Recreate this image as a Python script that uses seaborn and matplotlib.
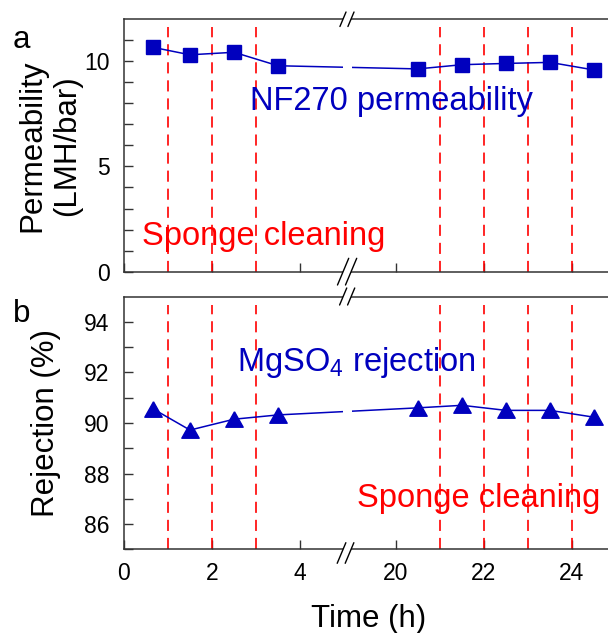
import numpy as np
import pandas as pd
import matplotlib
matplotlib.use("Agg")
import matplotlib.pyplot as plt
import seaborn as sns
from matplotlib.lines import Line2D
from matplotlib.patches import Polygon
from matplotlib.transforms import IdentityTransform

# ---------------- data ----------------
time_h = [0.67, 1.5, 2.5, 3.5, 20.5, 21.5, 22.5, 23.5, 24.5]
permeability = [10.65, 10.30, 10.42, 9.78, 9.63, 9.83, 9.89, 9.94, 9.58]
rejection = [90.55, 89.72, 90.15, 90.32, 90.60, 90.70, 90.50, 90.50, 90.23]
cleaning_times = [1, 2, 3, 21, 22, 23, 24]
x_ticks = [0, 2, 4, 20, 22, 24]
perm_major = [0, 5, 10]
perm_minor = [1, 2, 3, 4, 6, 7, 8, 9, 11]
rej_major = [86, 88, 90, 92, 94]
rej_minor = [85, 87, 89, 91, 93]

# ---------------- style ----------------
sns.set_style("ticks")
plt.rcParams["font.family"] = ["Liberation Sans", "DejaVu Sans"]
plt.rcParams["mathtext.fontset"] = "custom"
plt.rcParams["mathtext.rm"] = "Liberation Sans"
plt.rcParams["mathtext.default"] = "regular"
plt.rcParams["lines.scale_dashes"] = False
plt.rcParams["text.color"] = "black"
plt.rcParams["axes.labelcolor"] = "black"

BLUE = "#0000BE"
RED = "#FF0000"
SPINE = "#333333"

W, H = 608, 633
fig = plt.figure(figsize=(W / 100, H / 100), dpi=100)

# broken x-axis via a function scale
BREAK_A, BREAK_B = 5.07, 18.89
GAP = BREAK_B - BREAK_A
EPS = 1e-4
XMAX = 25.0


def fwd(x):
    x = np.asarray(x, float)
    return np.where(x <= BREAK_A, x,
                    np.where(x >= BREAK_B, x - GAP * (1 - EPS),
                             BREAK_A + (x - BREAK_A) * EPS))


def inv(y):
    y = np.asarray(y, float)
    ya = BREAK_A + GAP * EPS
    return np.where(y <= BREAK_A, y,
                    np.where(y >= ya, y + GAP * (1 - EPS),
                             BREAK_A + (y - BREAK_A) / EPS))


PX_PER_H = 44.0
LEFT_PX = 124.0
width_px = float(fwd(XMAX)) * PX_PER_H

ax_a = fig.add_axes([LEFT_PX / W, 1 - 271.7 / H, width_px / W, 252.7 / H])
ax_b = fig.add_axes([LEFT_PX / W, 1 - 549.3 / H, width_px / W, 252.6 / H])

df = pd.DataFrame({"time": time_h, "perm": permeability, "rej": rejection})

sns.lineplot(data=df, x="time", y="perm", ax=ax_a, color=BLUE, linewidth=1.1,
             marker="s", markersize=9.5, markeredgecolor=BLUE,
             markeredgewidth=1, zorder=3, legend=False)
tri = [(0, 0.89), (-1, -0.89), (1, -0.89), (0, 0.89)]
sns.lineplot(data=df, x="time", y="rej", ax=ax_b, color=BLUE, linewidth=1.1,
             marker=tri, markersize=12.5, markeredgecolor=BLUE,
             markeredgewidth=1, zorder=3, legend=False)

for ax, ylo, yhi, vtop, maj, mnr in [
    (ax_a, 0, 12, 11.62, perm_major, perm_minor),
    (ax_b, 85, 95, 94.67, rej_major, rej_minor),
]:
    ax.set_xscale("function", functions=(fwd, inv))
    ax.set_xlim(0, XMAX)
    ax.set_ylim(ylo, yhi)
    ax.set_xticks(x_ticks, labels=[str(t) for t in x_ticks])
    ax.set_xticks([], minor=True)
    ax.set_yticks(maj, labels=[str(t) for t in maj])
    ax.set_yticks(mnr, minor=True)
    ax.vlines(cleaning_times, ylo, vtop, colors=RED, linewidth=1.2,
              linestyles=(0, (8.0, 5.0)), zorder=1.5)
    ax.spines["right"].set_visible(False)
    for s in ["left", "top", "bottom"]:
        ax.spines[s].set_color(SPINE)
        ax.spines[s].set_linewidth(1.1)
    ax.tick_params(axis="both", which="both", direction="in", length=6.5,
                   width=1.0, color=SPINE, labelsize=16.5, labelcolor="black")
    ax.tick_params(axis="y", which="both", pad=10.5)
    ax.tick_params(axis="x", which="both", pad=9.5)
    ax.set_xlabel("")
    ax.set_ylabel("")

ax_a.tick_params(axis="x", labelbottom=False)

ax_a.set_ylabel("Permeability\n(LMH/bar)", fontsize=22.5, linespacing=1.2)
ax_a.yaxis.label.set_va("center")
ax_a.yaxis.set_label_coords((50 - LEFT_PX) / width_px, 0.5)

ax_b.set_ylabel("Rejection (%)", fontsize=22.5)
ax_b.yaxis.label.set_va("center")
ax_b.yaxis.set_label_coords((46 - LEFT_PX) / width_px, 0.5)

ax_b.set_xlabel("Time (h)", fontsize=22.5)
ax_b.xaxis.label.set_va("center")
ax_b.xaxis.set_label_coords((369 - LEFT_PX) / width_px, -(619 - 549.3) / 252.6)

# annotations (pixel positions from top-left -> figure fraction)
def ftext(xp, yp, s, color, size):
    fig.text(xp / W, 1 - yp / H, s, color=color, fontsize=size,
             ha="left", va="baseline")

ftext(250, 110, "NF270 permeability", BLUE, 23.5)
ftext(142, 245, "Sponge cleaning", RED, 23.5)
ftext(237, 371, "MgSO$_4$ rejection", BLUE, 23.5)
ftext(357, 507, "Sponge cleaning", RED, 23.5)
ftext(13, 48, "a", "black", 22.5)
ftext(13, 322, "b", "black", 22.5)

# ---------------- break marks ----------------
ident = IdentityTransform()
bx = ax_a.transData.transform((BREAK_A, 0))[0]
slope = 0.42
off = 4.0


def break_mark(yc_top_px, up, down):
    yc = H - yc_top_px
    # white gap in the spine
    hw = 2.5
    poly = Polygon([(bx - off - hw * slope, yc - hw), (bx + off - hw * slope, yc - hw),
                    (bx + off + hw * slope, yc + hw), (bx - off + hw * slope, yc + hw)],
                   closed=True, facecolor="white", edgecolor="none",
                   transform=ident, zorder=5)
    fig.add_artist(poly)
    for c in (bx - off, bx + off):
        ln = Line2D([c - down * slope, c + up * slope], [yc - down, yc + up],
                    color="black", linewidth=1.0, transform=ident, zorder=6)
        fig.add_artist(ln)


break_mark(19.0, 7, 7.5)
break_mark(271.7, 13.4, 13.3)
break_mark(296.7, 8.7, 8.3)
break_mark(549.3, 6.6, 14)

# white gap in the data line at the break
def line_gap(ax, yvals):
    p3 = ax.transData.transform((time_h[3], yvals[3]))
    p4 = ax.transData.transform((time_h[4], yvals[4]))
    t = (bx - p3[0]) / (p4[0] - p3[0])
    yl = p3[1] + t * (p4[1] - p3[1])
    gap = Polygon([(bx - 4.5, yl - 4), (bx + 4.5, yl - 4),
                   (bx + 4.5, yl + 4), (bx - 4.5, yl + 4)],
                  closed=True, facecolor="white", edgecolor="none",
                  transform=ident, zorder=5)
    fig.add_artist(gap)


line_gap(ax_a, permeability)
line_gap(ax_b, rejection)

fig.savefig("out.png", dpi=100)
